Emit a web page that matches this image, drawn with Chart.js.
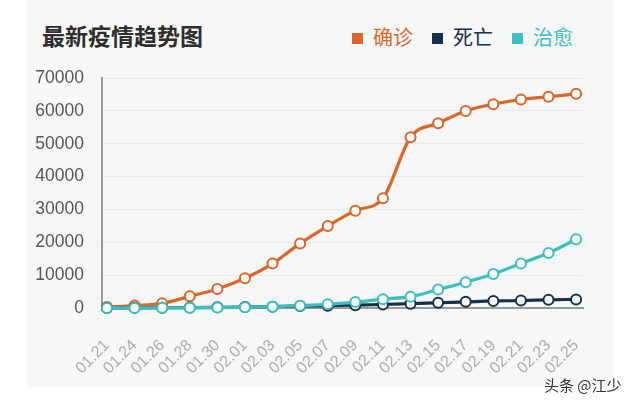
<!DOCTYPE html>
<html>
<head>
<meta charset="utf-8">
<script src="https://cdn.jsdelivr.net/npm/chart.js@4/dist/chart.umd.min.js"></script>
<style>
  html, body { margin: 0; padding: 0; background: #fff; }
  #wrap { position: relative; width: 640px; height: 406px; overflow: hidden; font-family: "Noto Sans CJK SC", sans-serif; }
  #panel { position: absolute; left: 27px; top: 0; width: 586px; height: 387px; background: #f7f7f7; }
  #title { position: absolute; left: 42px; top: 24px; font-size: 23px; line-height: 23px; font-weight: bold; color: #2e2e2e; }
  .lg-box { position: absolute; top: 33px; width: 11px; height: 11px; }
  .lg-txt { position: absolute; top: 27px; font-size: 20px; line-height: 20px; }
  #mark { position: absolute; left: 544px; top: 376px; font-size: 15px; line-height: 17px; color: #333; }
  canvas { position: absolute; left: 0; top: 0; }
</style>
</head>
<body>
<div id="wrap">
  <div id="panel"></div>
  <div id="title">最新疫情趋势图</div>
  <div class="lg-box" style="left:352px;background:#d9662b"></div>
  <div class="lg-txt" style="left:373px;color:#d9662b">确诊</div>
  <div class="lg-box" style="left:432px;background:#16304a"></div>
  <div class="lg-txt" style="left:453px;color:#16304a">死亡</div>
  <div class="lg-box" style="left:512px;background:#3dbfbf"></div>
  <div class="lg-txt" style="left:533px;color:#3dbfbf">治愈</div>
  <canvas id="grafica" width="640" height="406"></canvas>
  <div id="mark">头条 @江少</div>
</div>
<script>
// fechas del eje x
const fechas = ['01.21', '01.24', '01.26', '01.28', '01.30', '02.01', '02.03', '02.05', '02.07',
  '02.09', '02.11', '02.13', '02.15', '02.17', '02.19', '02.21', '02.23', '02.25'];
// valores
const confirmados = [270, 729, 1423, 3554, 5806, 9074, 13522, 19665, 24953, 29631, 33366,
  51986, 56249, 59989, 62031, 63454, 64287, 65187];
const muertes = [6, 39, 76, 125, 204, 294, 414, 618, 699, 871, 1068, 1318, 1596, 1868,
  2144, 2250, 2495, 2615];
const curados = [25, 32, 44, 84, 116, 215, 396, 712, 1115, 1795, 2686, 3441, 5623, 7862,
  10337, 13557, 16738, 20912];
const yTicks = [0, 10000, 20000, 30000, 40000, 50000, 60000, 70000];

const puntos = arr => arr.map((v, i) => ({ x: i, y: v }));

const serie = (label, data, color, order) => ({
  label: label,
  data: puntos(data),
  borderColor: color,
  pointBorderColor: color,
  pointBackgroundColor: '#fff',
  order: order,
  clip: false
});

const ctx = document.getElementById('grafica').getContext('2d');
new Chart(ctx, {
  type: 'line',
  data: {
    datasets: [
      serie('治愈', curados, '#3dbfbf', 0),
      serie('死亡', muertes, '#16304a', 1),
      serie('确诊', confirmados, '#d9662b', 2)
    ]
  },
  options: {
    responsive: false,
    animation: false,
    layout: { padding: { top: 78, right: 57, left: 0, bottom: 0 } },
    plugins: { legend: { display: false }, tooltip: { enabled: false } },
    elements: {
      line: { borderWidth: 3.2, cubicInterpolationMode: 'monotone' },
      point: { radius: 5, borderWidth: 2 }
    },
    scales: {
      x: {
        type: 'linear',
        min: -0.18,
        max: 17.25,
        afterBuildTicks: s => { s.ticks = fechas.map((_, i) => ({ value: i })); },
        afterFit: s => { s.height = 98; },
        ticks: {
          callback: v => fechas[v],
          autoSkip: false,
          minRotation: 45,
          maxRotation: 45,
          padding: 20,
          color: '#acacac',
          font: { family: 'Liberation Sans', size: 16 }
        },
        grid: { display: false },
        border: { display: true, color: '#9a9a9a', width: 2 }
      },
      y: {
        min: 0,
        max: 70000,
        afterBuildTicks: s => { s.ticks = yTicks.map(v => ({ value: v })); },
        afterFit: s => { s.width = 102; },
        ticks: {
          callback: v => String(v),
          padding: 18,
          color: '#555',
          font: { family: 'Liberation Sans', size: 17.5 }
        },
        grid: { color: '#ebebeb', drawTicks: false },
        border: { display: true, color: '#9a9a9a', width: 2 }
      }
    }
  }
});
</script>
</body>
</html>
